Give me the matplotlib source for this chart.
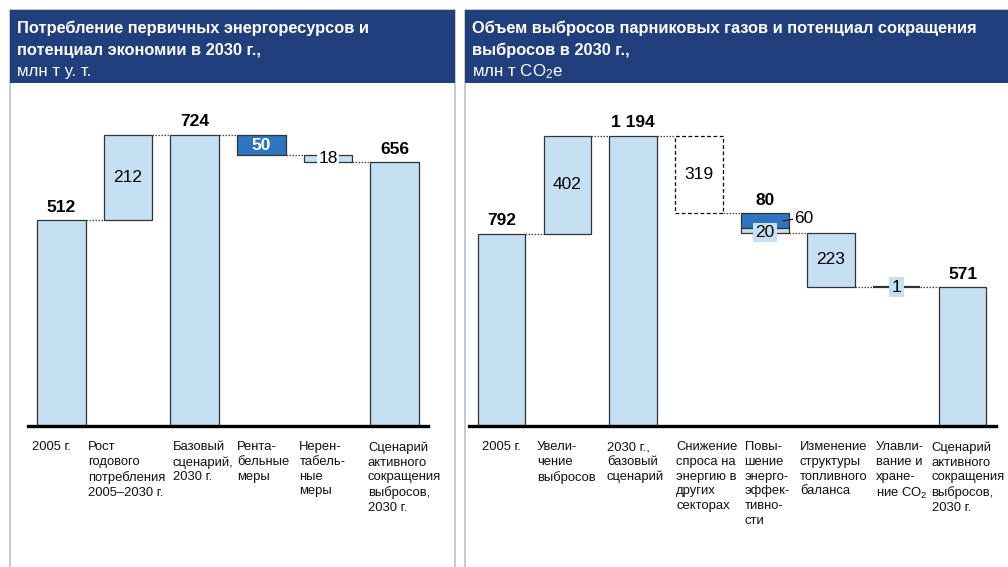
import matplotlib
matplotlib.use("Agg")
import matplotlib.pyplot as plt
from matplotlib.patches import Rectangle
from matplotlib.transforms import blended_transform_factory

plt.rcParams['font.family'] = ['Liberation Sans', 'DejaVu Sans']
plt.rcParams['mathtext.fontset'] = 'custom'
plt.rcParams['mathtext.rm'] = 'Liberation Sans'
plt.rcParams['mathtext.it'] = 'Liberation Sans:italic'
plt.rcParams['mathtext.bf'] = 'Liberation Sans:bold'

# ---- data: primary energy consumption, mln t c.e. ----
energy_labels = [
    "2005 г.",
    "Рост\nгодового\nпотребления\n2005–2030 г.",
    "Базовый\nсценарий,\n2030 г.",
    "Рента-\nбельные\nмеры",
    "Нерен-\nтабель-\nные\nмеры",
    "Сценарий\nактивного\nсокращения\nвыбросов,\n2030 г.",
]
energy_values = [512, 212, 724, -50, -18, 656]
energy_is_total = [True, False, True, False, False, True]

# ---- data: greenhouse gas emissions, mln t CO2e ----
ghg_labels = [
    "2005 г.",
    "Увели-\nчение\nвыбросов",
    "2030 г.,\nбазовый\nсценарий",
    "Снижение\nспроса на\nэнергию в\nдругих\nсекторах",
    "Повы-\nшение\nэнерго-\nэффек-\nтивно-\nсти",
    "Изменение\nструктуры\nтопливного\nбаланса",
    "Улавли-\nвание и\nхране-\nние CO$_2$",
    "Сценарий\nактивного\nсокращения\nвыбросов,\n2030 г.",
]
ghg_values = [792, 402, 1194, -319, -80, -223, -1, 571]
ghg_is_total = [True, False, True, False, False, False, False, True]
efficiency_split = [60, 20]   # profitable / unprofitable parts of the 80

LIGHT = "#C5DFF3"
DARK = "#2E74BE"
NAVY = "#213F7C"
EDGE = "#333333"
GRAY = "#C4C4C4"

W, H = 1008, 567
fig = plt.figure(figsize=(W / 100, H / 100), dpi=100)


def fx(px):
    return px / W


def fy(py):
    return 1 - py / H


def panel(x0, x1, title1, title2, unit):
    # frame and navy header
    fig.patches.append(Rectangle((fx(x0), fy(H + 5)), fx(x1 - x0), fy(10) - fy(H + 5),
                                 transform=fig.transFigure, facecolor="white",
                                 edgecolor=GRAY, lw=1.3, zorder=-2))
    fig.patches.append(Rectangle((fx(x0), fy(83)), fx(x1 - x0), fy(10) - fy(83),
                                 transform=fig.transFigure, facecolor=NAVY,
                                 edgecolor="none", zorder=-1))
    tx = fx(x0 + 7)
    fig.text(tx, fy(33), title1, color="white", fontsize=11.8, fontweight="bold", va="baseline")
    fig.text(tx, fy(55), title2, color="white", fontsize=11.8, fontweight="bold", va="baseline")
    fig.text(tx, fy(76), unit, color="white", fontsize=12.2, va="baseline")


panel(10, 455, "Потребление первичных энергоресурсов и",
      "потенциал экономии в 2030 г.,", "млн т у. т.")
panel(465, 1020, "Объем выбросов парниковых газов и потенциал сокращения",
      "выбросов в 2030 г.,", "млн т CO$_2$e")


def waterfall(values, is_total):
    """Return (start, end) level of each step of a waterfall."""
    level = 0
    spans = []
    for v, tot in zip(values, is_total):
        if tot:
            spans.append((0, v))
            level = v
        else:
            spans.append((level, level + v))
            level = level + v
    return spans


def make_axes(x0, x1, ymax):
    ax = fig.add_axes([fx(x0), fy(426), fx(x1 - x0), fy(100) - fy(426)])
    ax.set_zorder(3)
    ax.patch.set_visible(False)
    ax.set_ylim(0, ymax)
    ax.axis("off")
    ax.axhline(0, color="black", lw=2.4, zorder=5, clip_on=False)
    return ax


def connect(ax, x_from, x_to, y):
    ax.plot([x_from, x_to], [y, y], color="#444444", lw=0.9, ls=(0, (1.2, 1.2)), zorder=1)


def category_labels(ax, labels, offsets):
    tr = blended_transform_factory(ax.transData, ax.transAxes)
    for i, (lab, dx) in enumerate(zip(labels, offsets)):
        ax.text(i + dx, -0.047, lab, transform=tr, ha="left", va="top",
                fontsize=9.4, linespacing=1.3, color="#111111")


# ================= left chart =================
axL = make_axes(28, 428, 724 * 326 / 291)
n = len(energy_values)
axL.set_xlim(-0.5, n - 0.5)
bw = 0.73
spans = waterfall(energy_values, energy_is_total)
for i, ((lo, hi), v) in enumerate(zip(spans, energy_values)):
    b, t = min(lo, hi), max(lo, hi)
    color = DARK if i == 3 else LIGHT
    axL.bar(i, t - b, bottom=b, width=bw, color=color, edgecolor=EDGE, lw=0.9, zorder=2)
    if i < n - 1:
        connect(axL, i + bw / 2, i + 1 - bw / 2, hi)

for i in (0, 2, 5):
    axL.annotate(f"{energy_values[i]}", (i, spans[i][1]), xytext=(0, 4),
                 textcoords="offset points", ha="center", va="bottom",
                 fontsize=12.5, fontweight="bold")
axL.text(1, sum(spans[1]) / 2, f"{energy_values[1]}", ha="center", va="center", fontsize=12.5)
axL.text(3, sum(spans[3]) / 2, f"{-energy_values[3]}", ha="center", va="center",
         fontsize=12.5, fontweight="bold", color="white", zorder=4)
axL.text(4, sum(spans[4]) / 2, f"{-energy_values[4]}", ha="center", va="center",
         fontsize=12.5, zorder=4,
         bbox=dict(boxstyle="square,pad=0.05", facecolor="white", edgecolor="none"))
category_labels(axL, energy_labels, [-0.44, -0.60, -0.33, -0.36, -0.43, -0.40])

# ================= right chart =================
axR = make_axes(468.5, 995.5, 1194 * 326 / 290)
m = len(ghg_values)
axR.set_xlim(-0.5, m - 0.5)
bw = 0.72
spans = waterfall(ghg_values, ghg_is_total)
for i, ((lo, hi), v) in enumerate(zip(spans, ghg_values)):
    b, t = min(lo, hi), max(lo, hi)
    if i == 3:
        axR.bar(i, t - b, bottom=b, width=bw, facecolor="white", edgecolor="black",
                lw=0.9, ls=(0, (3, 2)), zorder=2)
    elif i == 4:
        top_part, low_part = efficiency_split
        axR.bar(i, top_part, bottom=t - top_part, width=bw, color=DARK,
                edgecolor=EDGE, lw=0.9, zorder=2)
        axR.bar(i, low_part, bottom=b, width=bw, color=LIGHT,
                edgecolor=EDGE, lw=0.9, zorder=2)
    elif i == 6:
        axR.bar(i, t - b, bottom=b, width=bw, color="#333333",
                edgecolor="#333333", lw=1.6, zorder=2)
    else:
        axR.bar(i, t - b, bottom=b, width=bw, color=LIGHT, edgecolor=EDGE, lw=0.9, zorder=2)
    if i < m - 1:
        connect(axR, i + bw / 2, i + 1 - bw / 2, hi)


def fmt(v):
    return f"{v:,}".replace(",", " ")


for i in (0, 2, 7):
    axR.annotate(fmt(ghg_values[i]), (i, spans[i][1]), xytext=(0, 4),
                 textcoords="offset points", ha="center", va="bottom",
                 fontsize=12.5, fontweight="bold")
for i in (1, 3, 5):
    axR.text(i, sum(spans[i]) / 2, fmt(abs(ghg_values[i])), ha="center", va="center",
             fontsize=12.5, zorder=4)
# energy efficiency step: total above, split parts beside/inside
top4 = spans[4][0]
axR.annotate(fmt(-ghg_values[4]), (4, top4), xytext=(0, 4), textcoords="offset points",
             ha="center", va="bottom", fontsize=12.5, fontweight="bold")
mid60 = top4 - efficiency_split[0] / 2
axR.plot([4 + 0.28, 4 + 0.42], [mid60, mid60 + 6], color="#222222", lw=0.9, zorder=4)
axR.text(4 + 0.44, mid60 + 8, f"{efficiency_split[0]}", ha="left", va="center",
         fontsize=12.5, zorder=4)
low20 = spans[4][1] + efficiency_split[1] / 2
axR.text(4, low20 - 8, f"{efficiency_split[1]}", ha="center", va="center", fontsize=12.5,
         zorder=4, bbox=dict(boxstyle="square,pad=0.12", facecolor=LIGHT, edgecolor="none"))
axR.text(6, sum(spans[6]) / 2, fmt(-ghg_values[6]), ha="center", va="center",
         fontsize=12.5, zorder=4,
         bbox=dict(boxstyle="square,pad=0.15", facecolor=LIGHT, edgecolor="none"))
category_labels(axR, ghg_labels, [-0.30, -0.46, -0.40, -0.35, -0.31, -0.47, -0.32, -0.47])

fig.savefig("out.png", dpi=100)
